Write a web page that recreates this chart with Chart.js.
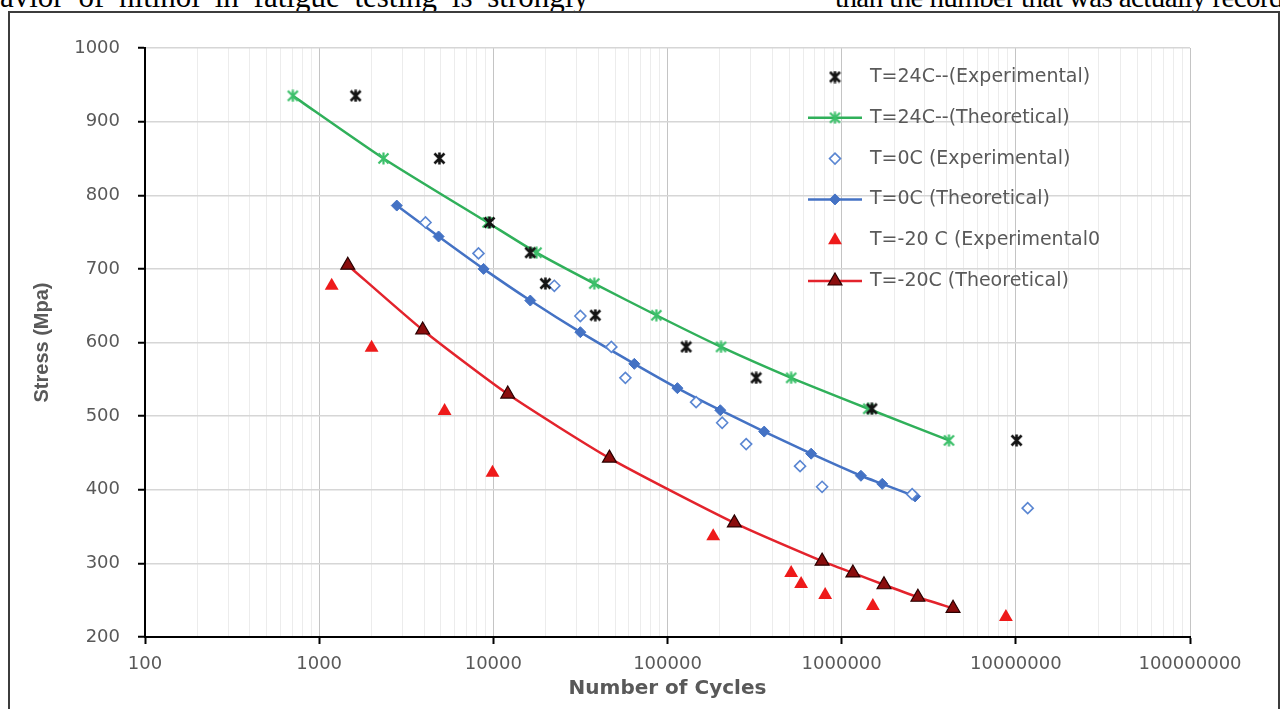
<!DOCTYPE html>
<html>
<head>
<meta charset="utf-8">
<script src="https://cdn.jsdelivr.net/npm/chart.js@4.4.1/dist/chart.umd.min.js"></script>
<style>
  html, body { margin: 0; padding: 0; background: #fff; }
  body { width: 1280px; height: 709px; position: relative; overflow: hidden; }
  .doc { position: absolute; top: -17px; font-family: 'Liberation Serif', serif; font-size: 29px; line-height: 29px; white-space: nowrap; color: #000; }
  .frame { position: absolute; left: 8px; top: 11px; width: 1268px; height: 720px; border: 2px solid #3c3c3c; background: #fff; }
  .wrap { position: absolute; left: 0; top: 0; width: 1280px; height: 709px; }
</style>
</head>
<body>
<div class="doc" style="left:0; top:-19px; font-size:31px; line-height:31px; word-spacing:7px">avior of nitinol in fatigue testing is strongly</div>
<div class="doc" style="left:835px; letter-spacing:-0.6px">than the number that was actually recorded</div>
<div class="frame"></div>
<div class="wrap"><canvas id="snChart"></canvas></div>
<script>
// tick labels
const xTickLabels = ['100', '1000', '10000', '100000', '1000000', '10000000', '100000000'];
const yMin = 200, yMax = 1000, yStep = 100;

const seriesLabels = [
    'T=24C--(Experimental)',
    'T=24C--(Theoretical)',
    'T=0C (Experimental)',
    'T=0C (Theoretical)',
    'T=-20 C (Experimental0',
    'T=-20C (Theoretical)'
];

// T = 24C
const cycles24Exp = [1620, 4900, 9500, 16300, 19900, 38500, 128000, 323000, 1490000, 10100000];
const stress24Exp = [935, 850, 763, 722, 680, 637, 594, 552, 510, 467];
const cycles24Th = [706, 2340, 9270, 17700, 38000, 86300, 203000, 513000, 1420000, 4130000];
const stress24Th = [935, 850, 763, 722, 680, 637, 594, 552, 510, 467];

// T = 0C
const cycles0Exp = [4080, 8220, 22400, 31600, 47600, 57300, 146000, 206000, 283000, 577000, 772000, 2540000, 11700000];
const stress0Exp = [763, 721, 677, 636, 594, 552, 519, 491, 462, 432, 404, 394, 375];
const cycles0Th = [2790, 4850, 8790, 16300, 31600, 64500, 114000, 201000, 359000, 668000, 1290000, 1710000, 2640000];
const stress0Th = [786, 744, 700, 657, 614, 571, 538, 508, 479, 449, 419, 408, 391];

// T = -20C
const cyclesM20Exp = [1180, 2000, 5250, 9890, 183000, 513000, 585000, 804000, 1510000, 8770000];
const stressM20Exp = [677, 593, 507, 423, 337, 287, 272, 257, 242, 227];
const cyclesM20Th = [1460, 3930, 12100, 46400, 242000, 772000, 1160000, 1750000, 2740000, 4360000];
const stressM20Th = [705, 617, 530, 443, 355, 303, 287, 271, 254, 239];

const toPoints = (xs, ys) => xs.map((x, i) => ({ x: x, y: ys[i] }));

const isDecade = (v) => {
    if (!v) return false;
    const l = Math.log10(v);
    return Math.abs(l - Math.round(l)) < 1e-9;
};

// 1..9 x each decade, like Excel's minor grid
const buildLogTicks = () => {
    const decades = xTickLabels.map(Number);
    const out = [];
    decades.forEach((d, i) => {
        if (i === decades.length - 1) { out.push(d); return; }
        for (let k = 1; k <= 9; k++) out.push(d * k);
    });
    return out;
};

// Excel style star marker (X with a vertical bar)
function asterisk(color, size, width) {
    const c = document.createElement('canvas');
    c.width = c.height = size;
    const g = c.getContext('2d');
    g.strokeStyle = color;
    g.lineWidth = width;
    const a = 1.5, b = size - 1.5;
    g.beginPath();
    g.moveTo(a, a); g.lineTo(b, b);
    g.moveTo(b, a); g.lineTo(a, b);
    g.moveTo(size / 2, 0.5); g.lineTo(size / 2, size - 0.5);
    g.stroke();
    return c;
}

const blackStar = asterisk('#141414', 13, 2.6);
const greenStar = asterisk('#3cc06a', 13, 2.2);

const textGrey = '#595959';

// legend drawn inside the plot, top right
const insideLegend = {
    id: 'insideLegend',
    afterDraw(chart) {
        const ctx = chart.ctx;
        const symX = 835, lineL = 808, lineR = 862, textX = 870;
        const top = 77, gap = 40.8;
        ctx.save();
        chart.data.datasets.forEach((ds, i) => {
            const y = top + i * gap;
            if (ds.showLine) {
                ctx.strokeStyle = ds.borderColor;
                ctx.lineWidth = ds.borderWidth;
                ctx.beginPath();
                ctx.moveTo(lineL, y);
                ctx.lineTo(lineR, y);
                ctx.stroke();
            }
            ctx.fillStyle = ds.pointBackgroundColor;
            ctx.strokeStyle = ds.pointBorderColor;
            ctx.lineWidth = ds.pointBorderWidth;
            Chart.helpers.drawPoint(ctx, {
                pointStyle: ds.pointStyle,
                radius: ds.pointRadius,
                borderWidth: ds.pointBorderWidth,
                rotation: 0
            }, symX, y);
            ctx.font = '19px "DejaVu Sans"';
            ctx.fillStyle = textGrey;
            ctx.textBaseline = 'middle';
            ctx.textAlign = 'left';
            ctx.fillText(ds.label, textX, y);
        });
        ctx.restore();
    }
};

const ctx = document.getElementById('snChart').getContext('2d');

new Chart(ctx, {
    type: 'scatter',
    data: {
        datasets: [{
            label: seriesLabels[0],
            data: toPoints(cycles24Exp, stress24Exp),
            showLine: false,
            pointStyle: blackStar,
            pointRadius: 6,
            pointBackgroundColor: '#141414',
            pointBorderColor: '#141414',
            pointBorderWidth: 0
        }, {
            label: seriesLabels[1],
            data: toPoints(cycles24Th, stress24Th),
            showLine: true,
            borderColor: '#30b05a',
            borderWidth: 2.5,
            tension: 0.2,
            pointStyle: greenStar,
            pointRadius: 6,
            pointBackgroundColor: '#3cc06a',
            pointBorderColor: '#3cc06a',
            pointBorderWidth: 0
        }, {
            label: seriesLabels[2],
            data: toPoints(cycles0Exp, stress0Exp),
            showLine: false,
            pointStyle: 'rectRot',
            pointRadius: 5.5,
            pointBackgroundColor: '#ffffff',
            pointBorderColor: '#5a86d2',
            pointBorderWidth: 1.6
        }, {
            label: seriesLabels[3],
            data: toPoints(cycles0Th, stress0Th),
            showLine: true,
            borderColor: '#4472c4',
            borderWidth: 2.5,
            tension: 0.2,
            pointStyle: 'rectRot',
            pointRadius: 5.5,
            pointBackgroundColor: '#4472c4',
            pointBorderColor: '#4472c4',
            pointBorderWidth: 1
        }, {
            label: seriesLabels[4],
            data: toPoints(cyclesM20Exp, stressM20Exp),
            showLine: false,
            pointStyle: 'triangle',
            pointRadius: 8,
            pointBackgroundColor: '#ee1a1a',
            pointBorderColor: '#ee1a1a',
            pointBorderWidth: 0
        }, {
            label: seriesLabels[5],
            data: toPoints(cyclesM20Th, stressM20Th),
            showLine: true,
            borderColor: '#e3232c',
            borderWidth: 2.5,
            tension: 0.2,
            pointStyle: 'triangle',
            pointRadius: 8,
            pointBackgroundColor: '#8a0d0d',
            pointBorderColor: '#2a0000',
            pointBorderWidth: 1.2
        }]
    },
    options: {
        responsive: true,
        maintainAspectRatio: false,
        animation: false,
        events: [],
        layout: { padding: { left: 16, right: 90, top: 48, bottom: 0 } },
        plugins: {
            legend: { display: false },
            tooltip: { enabled: false }
        },
        scales: {
            x: {
                type: 'logarithmic',
                min: Number(xTickLabels[0]),
                max: Number(xTickLabels[xTickLabels.length - 1]),
                afterBuildTicks: (axis) => { axis.ticks = buildLogTicks().map(v => ({ value: v })); },
                afterFit: (axis) => { axis.height = 72; },
                border: { color: '#000', width: 2 },
                grid: {
                    color: (c) => isDecade(c.tick && c.tick.value) ? '#c4c4c4' : '#ececec',
                    lineWidth: 1,
                    tickLength: 7,
                    tickWidth: 2,
                    tickColor: (c) => isDecade(c.tick && c.tick.value) ? '#000' : 'rgba(0,0,0,0)'
                },
                ticks: {
                    autoSkip: false,
                    maxRotation: 0,
                    minRotation: 0,
                    padding: 10,
                    color: textGrey,
                    font: { family: 'DejaVu Sans', size: 18 },
                    callback: (v) => xTickLabels.includes(String(v)) ? String(v) : ''
                },
                title: {
                    display: true,
                    text: 'Number of Cycles',
                    color: textGrey,
                    font: { family: 'DejaVu Sans', size: 20, weight: 'bold' },
                    padding: { top: 0, bottom: 8 }
                }
            },
            y: {
                min: yMin,
                max: yMax,
                afterFit: (axis) => { axis.width = 129; },
                border: { color: '#000', width: 2 },
                grid: {
                    color: '#d6d6d6',
                    lineWidth: 1.5,
                    tickLength: 7,
                    tickWidth: 2,
                    tickColor: '#000'
                },
                ticks: {
                    stepSize: yStep,
                    padding: 18,
                    color: textGrey,
                    font: { family: 'DejaVu Sans', size: 18 },
                    callback: (v) => String(v)
                },
                title: {
                    display: true,
                    text: 'Stress (Mpa)',
                    color: textGrey,
                    font: { family: 'Liberation Sans', size: 20, weight: 'bold' },
                    padding: { top: 14, bottom: 0 }
                }
            }
        }
    },
    plugins: [insideLegend]
});
</script>
</body>
</html>
